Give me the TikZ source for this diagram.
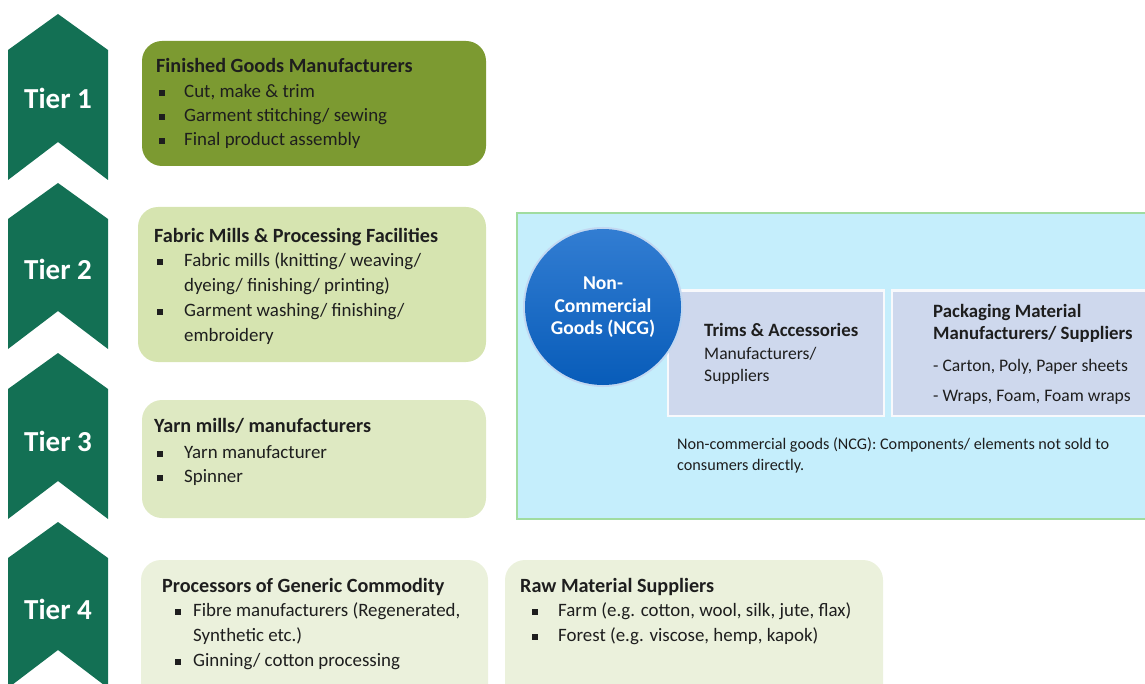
\documentclass[tikz,border=0pt]{standalone}
\usepackage{fontspec}
\setmainfont{Carlito}
\definecolor{chev}{RGB}{19,112,84}
\definecolor{olive}{RGB}{124,154,49}
\definecolor{lg2}{RGB}{214,228,176}
\definecolor{lg3}{RGB}{222,233,194}
\definecolor{lg4}{RGB}{235,241,220}
\definecolor{cyanbg}{RGB}{197,238,252}
\definecolor{cyanrim}{RGB}{160,220,160}
\definecolor{greybox}{RGB}{206,216,237}
\definecolor{txt}{RGB}{30,30,30}
\definecolor{ballhi}{RGB}{50,125,210}
\definecolor{balllo}{RGB}{8,92,185}
\begin{document}
\begin{tikzpicture}[x=1pt,y=-1pt,
  chevron/.style={fill=chev,draw=none},
  tierlabel/.style={text=white,font=\fontsize{29}{31}\selectfont\bfseries,inner sep=0pt},
  gbox/.style={draw=none,rounded corners=20pt},
  title/.style={anchor=mid west,inner sep=0pt,text=txt,font=\fontsize{20.2}{22}\selectfont\bfseries},
  body/.style={anchor=mid west,inner sep=0pt,text=txt,font=\fontsize{18.9}{20}\selectfont},
  ptitle/.style={anchor=mid west,inner sep=0pt,text=txt,font=\fontsize{18.8}{20}\selectfont\bfseries},
  pbody/.style={anchor=mid west,inner sep=0pt,text=txt,font=\fontsize{17.6}{19}\selectfont},
  note/.style={anchor=mid west,inner sep=0pt,text=txt,font=\fontsize{16.2}{18}\selectfont},
  ballt/.style={anchor=mid,inner sep=0pt,text=white,font=\fontsize{19.6}{21}\selectfont\bfseries},
  bul/.style={fill=txt,minimum size=6pt,inner sep=0pt,draw=none}
]
\useasboundingbox (0,0) rectangle (1145,684);
\clip (0,0) rectangle (1145,684);
% chevrons
\foreach \t/\n in {14/1,183/2,353/3,522/4}{
  \fill[chevron] (58,\t) -- (108,\t+36) -- (108,\t+166) -- (58,\t+128) -- (8,\t+166) -- (8,\t+36) -- cycle;
}
\node[tierlabel] (t1) at (58,98) {Tier 1};
\node[tierlabel] (t2) at (58,269) {Tier 2};
\node[tierlabel] (t3) at (58,441) {Tier 3};
\node[tierlabel] (t4) at (58,609) {Tier 4};
% tier boxes
\fill[gbox,olive] (142,41) rectangle (486,166);
\fill[gbox,lg2] (138,207) rectangle (486,362);
\fill[gbox,lg3] (142,400) rectangle (486,518);
\fill[gbox,lg4] (141,560) rectangle (488,710);
\fill[gbox,lg4] (505,560) rectangle (883,710);
% box 1
\node[title] (b1t) at (156,70) {Finished Goods Manufacturers};
\node[bul] (b1u1) at (162,93) {};
\node[body] (b1a) at (184,95) {Cut, make \& trim};
\node[bul] (b1u2) at (162,117) {};
\node[body] (b1b) at (184,119) {Garment stitching/ sewing};
\node[bul] (b1u3) at (162,141) {};
\node[body] (b1c) at (184,143) {Final product assembly};
% box 2
\node[title] (b2t) at (154,240) {Fabric Mills \& Processing Facilities};
\node[bul] (b2u1) at (160,262) {};
\node[body] (b2a) at (184,264) {Fabric mills (knitting/ weaving/};
\node[body] (b2b) at (184,289) {dyeing/ finishing/ printing)};
\node[bul] (b2u2) at (160,312) {};
\node[body] (b2c) at (184,314) {Garment washing/ finishing/};
\node[body] (b2d) at (184,339) {embroidery};
% box 3
\node[title] (b3t) at (154,430) {Yarn mills/ manufacturers};
\node[bul] (b3u1) at (160,454) {};
\node[body] (b3a) at (184,456) {Yarn manufacturer};
\node[bul] (b3u2) at (160,478) {};
\node[body] (b3b) at (184,480) {Spinner};
% box 4
\node[title] (b4t) at (162,590) {Processors of Generic Commodity};
\node[bul] (b4u1) at (178,612) {};
\node[body] (b4a) at (193,614) {Fibre manufacturers (Regenerated,};
\node[body] (b4b) at (193,639) {Synthetic etc.)};
\node[bul] (b4u2) at (178,662) {};
\node[body] (b4c) at (193,664) {Ginning/ cotton processing};
% box 5
\node[title] (b5t) at (520,590) {Raw Material Suppliers};
\node[bul] (b5u1) at (535,612) {};
\node[body] (b5a) at (558,614) {Farm (e.g. cotton, wool, silk, jute, flax)};
\node[bul] (b5u2) at (535,637) {};
\node[body] (b5b) at (558,639) {Forest (e.g. viscose, hemp, kapok)};
% NCG panel
\fill[cyanrim] (516,212) rectangle (1150,520);
\fill[cyanbg] (518,214.5) rectangle (1150,518);
\fill[white!85!greybox] (667,289) rectangle (885,417);
\fill[greybox] (669,292) rectangle (883,415);
\fill[white!85!greybox] (891,289) rectangle (1150,417);
\fill[greybox] (893,292) rectangle (1150,415);
\fill[white!70!ballhi] (603,307) circle (80);
\shade[top color=ballhi,bottom color=balllo] (603,307) circle (78);
\node[ballt] (c1) at (603,287) {Non-};
\node[ballt] (c2) at (603,310) {Commercial};
\node[ballt] (c3) at (603,332) {Goods (NCG)};
\node[ptitle] (tr1) at (704,334) {Trims \& Accessories};
\node[pbody] (tr2) at (704,357) {Manufacturers/};
\node[pbody] (tr3) at (704,379) {Suppliers};
\node[ptitle] (pk1) at (933,315) {Packaging Material};
\node[ptitle] (pk2) at (933,337) {Manufacturers/ Suppliers};
\node[pbody] (pk3) at (933,369) {- Carton, Poly, Paper sheets};
\node[pbody] (pk4) at (933,399) {- Wraps, Foam, Foam wraps};
\node[note] (n1) at (677,447) {Non-commercial goods (NCG): Components/ elements not sold to};
\node[note] (n2) at (677,468) {consumers directly.};
\end{tikzpicture}
\end{document}
